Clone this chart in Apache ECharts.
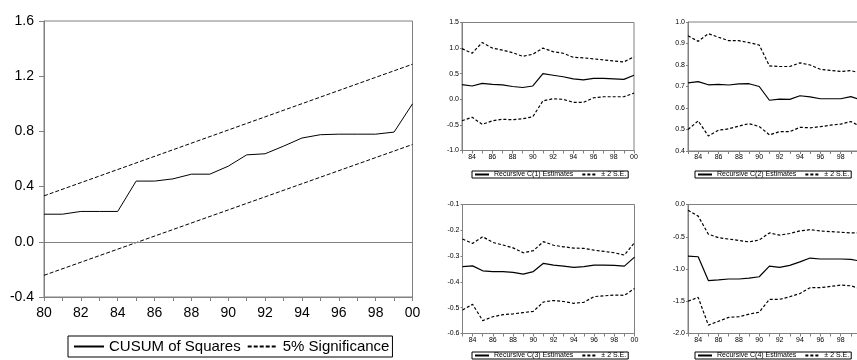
<!DOCTYPE html>
<html>
<head>
<meta charset="utf-8">
<script src="https://cdn.jsdelivr.net/npm/echarts@6/dist/echarts.min.js"></script>
<style>
  html, body { margin: 0; padding: 0; background: #fff; }
  #chart { width: 857px; height: 360px; }
</style>
</head>
<body>
<div id="chart"></div>
<script>
// CUSUM of squares (1980-2000)
const cusumYears = [1980, 1981, 1982, 1983, 1984, 1985, 1986, 1987, 1988, 1989, 1990,
  1991, 1992, 1993, 1994, 1995, 1996, 1997, 1998, 1999, 2000];
const cusumSq = [0.20, 0.20, 0.22, 0.22, 0.22, 0.44, 0.44, 0.456, 0.49, 0.49, 0.548,
  0.63, 0.638, 0.693, 0.752, 0.776, 0.78, 0.78, 0.78, 0.795, 1.0];
// 5% significance bounds (straight lines, end points)
const sigYears = [1980, 2000];
const sigUpper = [0.333, 1.287];
const sigLower = [-0.243, 0.705];

// recursive coefficient estimates (1983-2000)
const recYears = [1983, 1984, 1985, 1986, 1987, 1988, 1989, 1990, 1991,
  1992, 1993, 1994, 1995, 1996, 1997, 1998, 1999, 2000];

const c1 = [0.286, 0.26, 0.31, 0.29, 0.28, 0.25, 0.23, 0.26, 0.50,
  0.47, 0.44, 0.40, 0.38, 0.41, 0.41, 0.40, 0.39, 0.47];
const c1Up = [0.99, 0.90, 1.11, 1.0, 0.96, 0.91, 0.84, 0.88, 1.0,
  0.93, 0.90, 0.82, 0.81, 0.79, 0.77, 0.75, 0.73, 0.83];
const c1Lo = [-0.42, -0.35, -0.49, -0.42, -0.39, -0.40, -0.38, -0.34, -0.03,
  0.01, 0.0, -0.06, -0.06, 0.03, 0.05, 0.05, 0.05, 0.12];

const c2 = [0.717, 0.723, 0.708, 0.71, 0.707, 0.712, 0.713, 0.70, 0.636,
  0.641, 0.64, 0.657, 0.652, 0.643, 0.643, 0.643, 0.653, 0.637];
const c2Up = [0.936, 0.91, 0.946, 0.929, 0.913, 0.913, 0.904, 0.893, 0.796,
  0.793, 0.793, 0.81, 0.80, 0.78, 0.775, 0.77, 0.774, 0.762];
const c2Lo = [0.50, 0.54, 0.47, 0.497, 0.503, 0.516, 0.527, 0.514, 0.475,
  0.49, 0.49, 0.51, 0.508, 0.513, 0.52, 0.525, 0.537, 0.513];

const c3 = [-0.341, -0.338, -0.357, -0.36, -0.36, -0.363, -0.37, -0.36, -0.328,
  -0.335, -0.339, -0.344, -0.341, -0.335, -0.335, -0.336, -0.339, -0.304];
const c3Up = [-0.234, -0.251, -0.225, -0.247, -0.257, -0.268, -0.287, -0.279, -0.244,
  -0.258, -0.264, -0.269, -0.27, -0.277, -0.282, -0.287, -0.296, -0.248];
const c3Lo = [-0.509, -0.487, -0.55, -0.535, -0.527, -0.524, -0.519, -0.514, -0.478,
  -0.472, -0.476, -0.483, -0.479, -0.457, -0.454, -0.451, -0.452, -0.426];

const c4 = [-0.80, -0.81, -1.18, -1.17, -1.155, -1.155, -1.14, -1.12, -0.955,
  -0.974, -0.943, -0.89, -0.83, -0.845, -0.845, -0.845, -0.85, -0.88];
const c4Up = [-0.09, -0.18, -0.46, -0.515, -0.536, -0.557, -0.58, -0.55, -0.44,
  -0.475, -0.45, -0.41, -0.39, -0.41, -0.42, -0.43, -0.44, -0.44];
const c4Lo = [-1.5, -1.44, -1.87, -1.81, -1.75, -1.74, -1.70, -1.67, -1.47,
  -1.47, -1.43, -1.38, -1.29, -1.29, -1.27, -1.25, -1.26, -1.31];

const FONT = 'Liberation Sans, Arial, sans-serif';
const AXIS = '#808080';

const pairs = (xs, ys) => xs.map((x, i) => [x, ys[i]]);
const yearLabel = (v) => (v % 2 === 0 ? String(v % 100).padStart(2, '0') : '');

// 主图 + 四个小图的网格
const grids = [
  { left: 44, top: 21, width: 368.5, height: 276 },
  { left: 462, top: 22.5, width: 172, height: 128 },
  { left: 688, top: 22, width: 173, height: 129 },
  { left: 462.5, top: 204.5, width: 172, height: 129 },
  { left: 688, top: 204.5, width: 173, height: 129 },
].map((g) => ({ ...g, show: true, borderColor: AXIS, borderWidth: 1, outerBoundsMode: 'none' }));

const makeX = (gridIndex, min, big) => ({
  type: 'value', gridIndex, min, max: 2000, interval: 1,
  axisLine: { onZero: false, lineStyle: { color: AXIS } },
  axisTick: { length: big ? 4 : 3, lineStyle: { color: AXIS } },
  axisLabel: { formatter: yearLabel, color: '#000', fontFamily: FONT,
    fontSize: big ? 14 : 7, margin: big ? 9 : 3 },
  splitLine: { show: false },
});

const makeY = (gridIndex, min, max, interval, big) => ({
  type: 'value', gridIndex, min, max, interval,
  axisLine: { show: true, onZero: false, lineStyle: { color: AXIS } },
  axisTick: { show: true, length: big ? 5 : 2, lineStyle: { color: AXIS } },
  axisLabel: { formatter: (v) => v.toFixed(1), color: '#000', fontFamily: FONT,
    fontSize: big ? 14 : 7, margin: big ? 10 : 3 },
  splitLine: { show: false },
});

const line = (name, data, idx, dashed, width) => ({
  name, type: 'line', data, xAxisIndex: idx, yAxisIndex: idx,
  symbol: 'none', silent: true,
  itemStyle: { color: '#000' },
  lineStyle: { color: '#000', width, type: dashed ? (width > 1.05 ? [3, 2] : [4, 2]) : 'solid' },
});

// 图例只画线，不画符号
const hiddenSymbol = { color: 'rgba(0,0,0,0)', borderWidth: 0 };

const smallLegend = (names, left, top) => ({
  left, top, width: 170, orient: 'horizontal', data: names,
  itemWidth: 14, itemHeight: 8, itemGap: 8,
  padding: [0, 2, 0, 2], borderColor: '#000', borderWidth: 1,
  itemStyle: hiddenSymbol,
  textStyle: { fontSize: 7, fontFamily: FONT, color: '#000' },
  selectedMode: false,
});

const series = [
  {
    ...line('CUSUM of Squares', pairs(cusumYears, cusumSq), 0, false, 1),
    markLine: {
      silent: true, symbol: ['none', 'none'], label: { show: false },
      lineStyle: { color: AXIS, type: 'solid', width: 1 },
      data: [{ yAxis: 0 }],
    },
  },
  line('5% Significance', pairs(sigYears, sigUpper), 0, true, 1),
  line('5% Significance', pairs(sigYears, sigLower), 0, true, 1),
];

const small = [
  ['Recursive C(1) Estimates', c1, c1Up, c1Lo],
  ['Recursive C(2) Estimates', c2, c2Up, c2Lo],
  ['Recursive C(3) Estimates', c3, c3Up, c3Lo],
  ['Recursive C(4) Estimates', c4, c4Up, c4Lo],
];
small.forEach(([name, est, up, lo], i) => {
  const idx = i + 1;
  series.push(line(name, pairs(recYears, est), idx, false, 1.2));
  series.push(line('± 2 S.E.', pairs(recYears, up), idx, true, 1.2));
  series.push(line('± 2 S.E.', pairs(recYears, lo), idx, true, 1.2));
});

const chart = echarts.init(document.getElementById('chart'));
chart.setOption({
  animation: false,
  backgroundColor: '#fff',
  grid: grids,
  xAxis: [makeX(0, 1980, true), makeX(1, 1983), makeX(2, 1983), makeX(3, 1983), makeX(4, 1983)],
  yAxis: [
    makeY(0, -0.4, 1.6, 0.4, true),
    makeY(1, -1.0, 1.5, 0.5),
    makeY(2, 0.4, 1.0, 0.1),
    makeY(3, -0.6, -0.1, 0.1),
    makeY(4, -2.0, 0.0, 0.5),
  ],
  legend: [
    {
      left: 68, top: 336, data: ['CUSUM of Squares', '5% Significance'],
      itemWidth: 30, itemHeight: 10, itemGap: 6,
      padding: [3, 3, 3, 5], borderColor: '#000', borderWidth: 1,
      itemStyle: hiddenSymbol,
      textStyle: { fontSize: 15, fontFamily: FONT, color: '#000' },
      selectedMode: false,
    },
    smallLegend(['Recursive C(1) Estimates', '± 2 S.E.'], 472, 171),
    smallLegend(['Recursive C(2) Estimates', '± 2 S.E.'], 695, 171),
    smallLegend(['Recursive C(3) Estimates', '± 2 S.E.'], 472, 352),
    smallLegend(['Recursive C(4) Estimates', '± 2 S.E.'], 695, 352),
  ],
  series,
});
</script>
</body>
</html>
